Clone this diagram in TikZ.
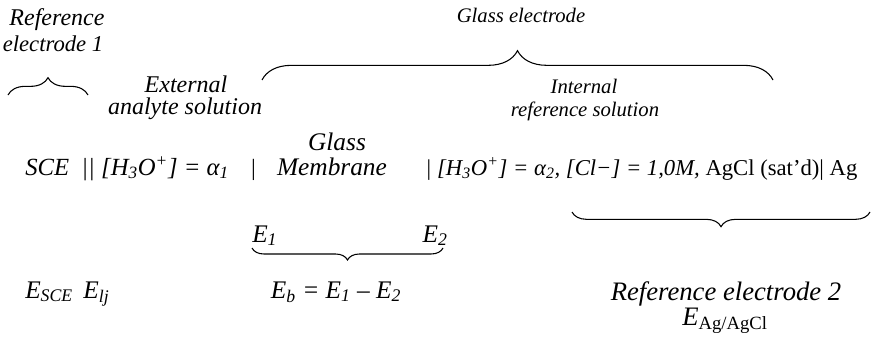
\documentclass[tikz,border=0pt]{standalone}
\usepackage{fontspec}
\setmainfont{Liberation Serif}
\usetikzlibrary{positioning, decorations.pathreplacing}

\newcommand{\sub}[1]{\textsubscript{#1}}

\begin{document}
\begin{tikzpicture}[x=0.75pt, y=-0.75pt,
        txt/.style={font=\fontsize{#1}{#1}\selectfont\itshape, inner sep=0pt, align=center},
        txt/.default=17,
        brace/.style={decorate, decoration={brace, amplitude=#1}, thick},
        brace/.default=10pt]

        \useasboundingbox (0,0) rectangle (873,357);

        % --- Labels above ---
        \node[txt=18, anchor=base] (ref1a) at (57,26) {Reference};
        \node[txt=17, anchor=base] (ref1b) at (53,51) {electrode 1};
        \node[txt=15.5, anchor=base] (glasse) at (521,22) {Glass electrode};
        \node[txt=18, anchor=base] (exta) at (186,92) {External};
        \node[txt=18, anchor=base] (extb) at (185,114) {analyte solution};
        \node[txt=15.5, anchor=base] (inta) at (584,93) {Internal};
        \node[txt=15.5, anchor=base] (intb) at (585,116) {reference solution};

        % --- Cell notation ---
        \node[txt=18.5, anchor=base west] (sce) at (25,175)
            {SCE \ || [H\sub{3}O\textsuperscript{+}] = α\sub{1}};
        \node[txt=17.5, anchor=base] (bar) at (253,175) {|};
        \node[txt=19, anchor=base] (glass) at (337,150) {Glass};
        \node[txt=19, anchor=base] (memb) at (332,175) {Membrane};
        \node[txt=17, anchor=base west] (sol) at (425,175)
            {| [H\sub{3}O\textsuperscript{+}] = α\sub{2}, [Cl−] = 1,0M, \upshape AgCl (sat’d)| Ag};

        % --- Potentials ---
        \node[txt=19, anchor=base west] (e1) at (252,242) {E\sub{1}};
        \node[txt=19, anchor=base east] (e2) at (448,242) {E\sub{2}};
        \node[txt=19, anchor=base west] (esce) at (25,298)
            {E\sub{SCE} \,E\sub{lj}};
        \node[txt=19, anchor=base] (eb) at (336,298)
            {E\sub{b} = E\sub{1} – E\sub{2}};
        \node[txt=20, anchor=base] (ref2) at (726,300) {Reference electrode 2};
        \node[txt=20, anchor=base] (eag) at (725,325) {E\sub{\upshape Ag/AgCl}};

        % --- Braces ---
        \coordinate (b1l) at (8,95);
        \coordinate (b1r) at (88,95);
        \coordinate (b2l) at (262,80);
        \coordinate (b2r) at (773,80);
        \coordinate (b3l) at (252,248);
        \coordinate (b3r) at (443,248);
        \coordinate (b4l) at (572,212);
        \coordinate (b4r) at (870,212);

        \draw[brace=13pt] (b1l) -- (b1r);
        \draw[brace=22pt] (b2l) -- (b2r);
        \draw[brace=9pt] (b3r) -- (b3l);
        \draw[brace=11pt] (b4r) -- (b4l);

\end{tikzpicture}
\end{document}
